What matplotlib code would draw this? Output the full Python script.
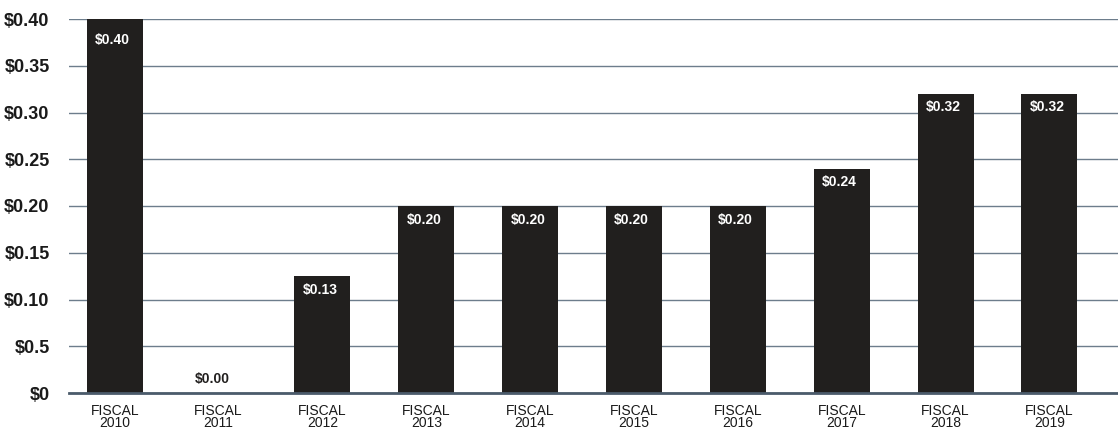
import matplotlib
matplotlib.use('Agg')
from matplotlib import pyplot as plt

#Chart data
years = ['2010', '2011', '2012', '2013', '2014', '2015', '2016', '2017', '2018', '2019']
dividends = [0.40, 0.00, 0.125, 0.20, 0.20, 0.20, 0.20, 0.24, 0.32, 0.32]
value_labels = ['$0.40', '$0.00', '$0.13', '$0.20', '$0.20', '$0.20', '$0.20', '$0.24', '$0.32', '$0.32']
y_ticks = [0, 0.05, 0.10, 0.15, 0.20, 0.25, 0.30, 0.35, 0.40]
y_tick_labels = ['$0', '$0.5', '$0.10', '$0.15', '$0.20', '$0.25', '$0.30', '$0.35', '$0.40']

plt.rcParams['font.family'] = ['Liberation Sans', 'DejaVu Sans']

fig = plt.figure(figsize = (11.18, 4.32), dpi = 100)
ax = fig.add_axes([69/1118, 1 - 393/432, 1 - 69/1118, (393 - 19)/432])

x = list(range(len(years)))
bar_w = 0.54
bar_color = '#211f1e'
ax.bar(x, dividends, width = bar_w, color = bar_color, zorder = 3)

#value labels, white inside the bar near its left edge
for i, v in enumerate(dividends):
    if v > 0.02:
        drop = 0.015 if v >= 0.4 else 0.007
        ax.text(i - bar_w/2 + 0.08, v - drop, value_labels[i], ha = 'left', va = 'top', color = 'white',
                fontsize = 10, fontweight = 'bold', zorder = 4)
    else:
        ax.text(i - 0.06, 0.007, value_labels[i], ha = 'center', va = 'bottom', color = '#211f1e',
                fontsize = 10, fontweight = 'bold', zorder = 4)

ax.set_xlim(-0.44, 9.66)
ax.set_ylim(0, 0.40)
ax.set_yticks(y_ticks)
ax.set_yticklabels(y_tick_labels, fontsize = 13, fontweight = 'bold', color = '#1a1a1a')
ax.set_xticks(x)
ax.set_xticklabels([f'FISCAL\n{y}' for y in years], fontsize = 10, color = '#1a1a1a', linespacing = 0.8)
ax.tick_params(axis = 'y', length = 0, pad = 14)
ax.tick_params(axis = 'x', length = 0, pad = 8)

ax.yaxis.grid(True, color = '#6d7d8c', linewidth = 1.0, zorder = 0)
ax.xaxis.grid(False)
for side in ['top', 'right', 'left']:
    ax.spines[side].set_visible(False)
ax.spines['bottom'].set_color('#4b5b6b')
ax.spines['bottom'].set_linewidth(2.0)
ax.spines['bottom'].set_zorder(5)

plt.savefig('out.png', dpi = 100)
